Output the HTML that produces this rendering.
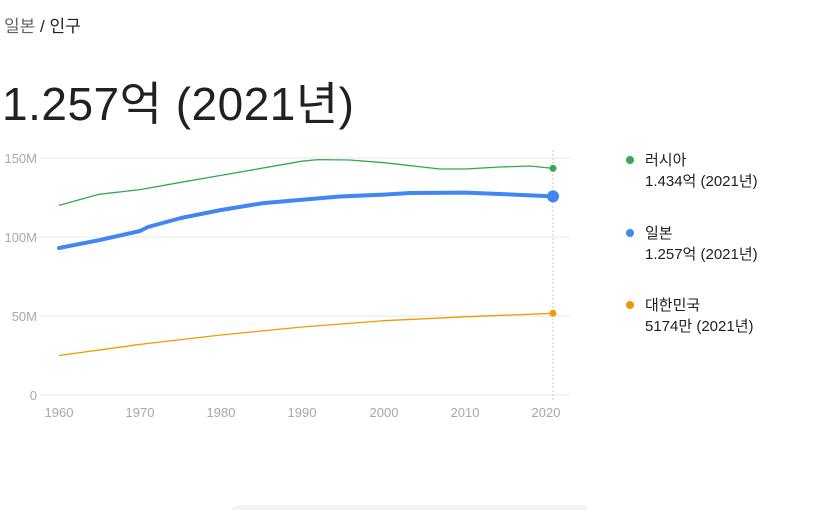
<!DOCTYPE html>
<html><head><meta charset="utf-8"><style>
body{margin:0;width:825px;height:510px;background:#fff;font-family:"Liberation Sans","Noto Sans CJK KR",sans-serif;overflow:hidden;position:relative}
.bc{position:absolute;left:4px;top:12px;font-size:17px;color:#202124}
.bc span{color:#5f6368}
.big{position:absolute;left:2px;top:68px;font-size:46px;color:#202124;letter-spacing:0.5px}
.lg{position:absolute;left:628px;font-size:15px;color:#202124;line-height:21px}
.dot{position:absolute;left:-2px;top:6px;width:8px;height:8px;border-radius:50%}
.lg div{padding-left:17px}
</style></head><body>
<div class="bc"><span>일본</span> / 인구</div>
<div class="big">1.257억 (2021년)</div>
<svg width="825" height="510" style="position:absolute;left:0;top:0">
<g stroke="#efefef" stroke-width="1.5">
<line x1="40" y1="158" x2="570" y2="158"/><line x1="40" y1="237" x2="570" y2="237"/><line x1="40" y1="316" x2="570" y2="316"/><line x1="40" y1="395" x2="570" y2="395"/>
</g>
<line x1="553" y1="150" x2="553" y2="400" stroke="#c8c8c8" stroke-dasharray="2,2"/>
<g font-size="13" fill="#a8a8a8" text-anchor="end">
<text x="37" y="163">150M</text><text x="37" y="242">100M</text><text x="37" y="321">50M</text><text x="37" y="400">0</text>
</g>
<g font-size="13" fill="#a8a8a8" text-anchor="middle">
<text x="59" y="417">1960</text><text x="140" y="417">1970</text><text x="221" y="417">1980</text><text x="302" y="417">1990</text><text x="384" y="417">2000</text><text x="465" y="417">2010</text><text x="546" y="417">2020</text>
</g>
<polyline fill="none" stroke="#34a853" stroke-width="1.3" points="59,205.4 99,194.3 140,189.6 181,182.3 221,175.4 262,168.2 302,161.2 318,159.6 350,160 384,162.7 440,169 465,169 500,167 530,166 553,168.4"/>
<polyline fill="none" stroke="#f29900" stroke-width="1.3" points="59,355.5 140,344.4 221,335 302,327 384,320.7 465,316.8 553,313.3"/>
<polyline fill="none" stroke="#4285f4" stroke-width="4" stroke-linejoin="round" stroke-linecap="round" points="59,248 99,240.2 140,231 148,227 181,218 221,210 262,203.3 302,199.7 340,196.5 384,194.6 410,193 465,192.6 500,194 553,196.4"/>
<circle cx="553" cy="168.4" r="3.5" fill="#34a853"/>
<circle cx="553" cy="313.3" r="3.5" fill="#f29900"/>
<circle cx="553" cy="196.4" r="6" fill="#4285f4"/>
<rect x="230" y="505" width="360" height="20" rx="10" fill="#f1f3f4"/>
</svg>
<div class="lg" style="top:150px"><span class="dot" style="background:#34a853"></span><div>러시아</div><div>1.434억 (2021년)</div></div>
<div class="lg" style="top:223px"><span class="dot" style="background:#4285f4"></span><div>일본</div><div>1.257억 (2021년)</div></div>
<div class="lg" style="top:295px"><span class="dot" style="background:#f29900"></span><div>대한민국</div><div>5174만 (2021년)</div></div>
</body></html>
